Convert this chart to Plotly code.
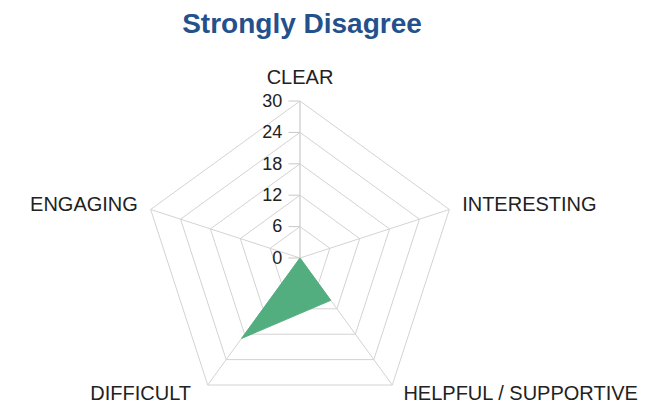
import plotly.graph_objects as go

categories = ["CLEAR", "INTERESTING", "HELPFUL / SUPPORTIVE", "DIFFICULT", "ENGAGING"]
values = [0, 0, 10, 19, 0]
radial_ticks = [0, 6, 12, 18, 24, 30]
title_text = "Strongly Disagree"

# the two lower category labels sit beside their corners, drawn as a text trace
lower_labels = ["HELPFUL / SUPPORTIVE", "DIFFICULT"]
lower_label_r = [30, 30]

W, H = 646, 407
OFF = 8          # the page body offsets the figure by 8 px
R = 157
cx, cy = 300 - OFF, 258 - OFF  # pixel centre in figure coordinates
FONT = "Liberation Sans, Arial, sans-serif"

fig = go.Figure()
fig.add_trace(go.Scatterpolar(
    r=values + [values[0]],
    theta=categories + [categories[0]],
    fill="toself",
    fillcolor="#52AE7E",
    line=dict(color="#52AE7E", width=1),
    mode="lines",
    showlegend=False,
))
fig.add_trace(go.Scatterpolar(
    r=lower_label_r,
    theta=lower_labels,
    mode="text",
    text=["\u00a0\u00a0" + lower_labels[0], lower_labels[1] + "\u00a0\u00a0\u00a0"],
    textposition=["bottom right", "bottom left"],
    textfont=dict(size=20, color="#222222", family=FONT),
    cliponaxis=False,
    hoverinfo="skip",
    showlegend=False,
))

ticktext = [c if c not in lower_labels else "" for c in categories]

fig.update_layout(
    width=W, height=H,
    margin=dict(l=0, r=0, t=0, b=0),
    paper_bgcolor="white",
    font=dict(family=FONT, color="#222222"),
    title=dict(
        text="<b>" + title_text + "</b>",
        x=(302 - OFF) / W, xanchor="center", xref="paper",
        y=1 - 5 / H, yanchor="top", yref="container",
        font=dict(size=28, color="#24508C", family=FONT),
    ),
    polar=dict(
        domain=dict(x=[(cx - R) / W, (cx + R) / W], y=[(H - cy - R) / H, (H - cy + R) / H]),
        bgcolor="white",
        gridshape="linear",
        angularaxis=dict(
            direction="clockwise", rotation=90,
            tickmode="array", tickvals=categories, ticktext=ticktext,
            showgrid=True, gridcolor="#d3d3d3", gridwidth=1,
            showline=True, linecolor="#d3d3d3", linewidth=1,
            ticks="outside", ticklen=9, tickcolor="rgba(0,0,0,0)",
            tickfont=dict(size=20, color="#222222"),
        ),
        radialaxis=dict(
            range=[0, 30], tickvals=radial_ticks, angle=90,
            side="counterclockwise",
            showgrid=True, gridcolor="#d3d3d3", gridwidth=1,
            showline=True, linecolor="#d3d3d3", linewidth=1,
            ticks="outside", ticklen=11, tickcolor="#c8c8c8",
            tickfont=dict(size=18, color="#222222"),
            tickangle=90,
        ),
    ),
)

fig.write_html("out.html")
